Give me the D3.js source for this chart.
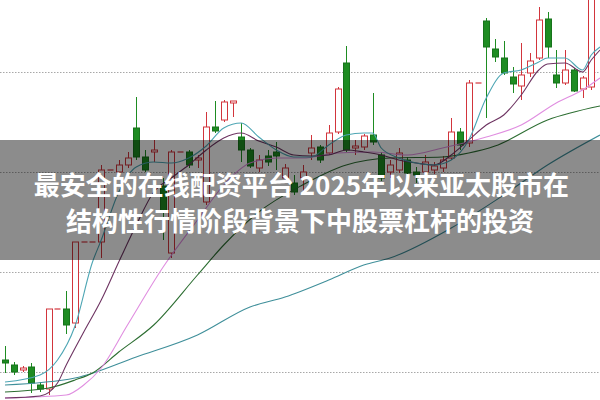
<!DOCTYPE html>
<html>
<head>
<meta charset="utf-8">
<script src="https://cdn.jsdelivr.net/npm/d3@7/dist/d3.min.js"></script>
<style>
html,body{margin:0;padding:0;background:#fff;}
svg{display:block;}
</style>
</head>
<body>
<svg id="chart" width="600" height="400"></svg>
<script>
// ---- data (prices) ----
const days = d3.range(68);
const opens  = [8.12,8.07,8.02,8.05,7.87,7.83,8.63,8.63,8.49,9.30,9.30,9.30,10.02,10.00,10.07,10.44,10.15,10.20,9.86,9.19,10.20,10.20,10.12,9.70,10.45,10.52,10.69,10.35,10.22,10.04,10.16,10.20,9.94,9.89,9.94,10.19,10.25,10.19,10.40,11.09,10.24,10.25,10.37,10.17,10.00,10.02,10.12,10.00,10.00,10.02,10.04,10.14,10.40,10.29,10.89,11.51,11.23,11.14,10.95,10.86,10.99,11.14,11.53,10.97,10.89,11.02,10.83,10.85];
const closes = [8.09,8.00,8.04,7.89,7.83,8.63,8.63,8.47,9.30,9.30,9.30,10.02,10.02,10.07,10.14,10.15,10.02,10.22,9.60,10.20,10.20,10.07,10.14,10.45,10.41,10.70,10.71,10.22,10.06,10.12,10.10,10.16,10.04,9.80,10.00,10.24,10.12,10.39,10.83,10.22,10.26,10.36,10.30,9.94,10.07,10.19,9.99,9.97,10.10,10.06,10.12,10.40,10.27,10.89,10.89,11.25,11.15,10.99,10.88,10.97,11.11,11.52,11.25,10.89,11.02,10.81,10.94,11.87];
const highs  = [8.26,8.10,8.06,8.09,7.90,8.63,8.63,8.81,9.30,9.30,9.30,10.07,10.02,10.12,10.20,10.75,10.22,10.32,9.94,10.22,10.20,10.22,10.17,10.60,10.71,10.72,10.71,10.49,10.24,10.17,10.22,10.30,10.08,9.97,10.07,10.37,10.27,10.47,10.85,11.26,10.32,10.38,10.79,10.20,10.12,10.24,10.15,10.05,10.17,10.10,10.16,10.54,10.44,10.92,10.89,11.54,11.33,11.31,11.05,11.29,11.19,11.65,11.60,11.22,11.22,11.04,10.96,11.92];
const lows   = [7.99,7.97,8.00,7.79,7.80,7.77,8.63,8.38,8.44,9.30,9.30,9.14,10.02,9.97,10.04,10.12,10.00,10.10,9.32,9.14,10.20,10.04,10.04,9.67,10.39,10.50,10.55,10.10,10.04,10.00,10.06,10.02,9.90,9.77,9.77,10.12,10.09,10.17,10.38,10.20,10.17,10.22,10.27,9.91,9.94,9.99,9.89,9.89,9.97,9.98,10.00,10.12,10.22,10.25,10.89,10.54,11.10,10.97,10.79,10.72,10.95,11.12,11.14,10.84,10.87,10.80,10.74,10.82];

// moving-average lines, [day, value]
const ma5  = [[0,7.90],[4,7.97],[6,8.12],[8,8.46],[10,9.10],[11,9.32],[13,9.80],[15,10.05],[17,10.10],[19,10.09],[21,10.14],[23,10.26],[25,10.44],[27,10.49],[29,10.35],[31,10.22],[33,10.15],[35,10.15],[37,10.27],[39,10.37],[41,10.39],[42,10.39],[43,10.24],[45,10.14],[47,10.09],[49,10.07],[51,10.12],[53,10.32],[55,10.74],[57,10.99],[59,11.02],[61,11.10],[62,11.14],[64,11.14],[66,11.02],[67,11.17],[68,11.25]];
const ma10 = [[0,7.74],[4,7.76],[6,7.89],[7,8.07],[9,8.40],[11,8.72],[13,9.10],[15,9.47],[17,9.80],[19,9.94],[21,10.07],[23,10.22],[25,10.34],[27,10.39],[29,10.31],[31,10.25],[33,10.17],[35,10.16],[37,10.17],[39,10.22],[41,10.20],[43,10.17],[45,10.12],[47,10.09],[49,10.07],[51,10.17],[53,10.32],[55,10.47],[57,10.57],[59,10.77],[61,11.02],[62,11.08],[64,11.09],[66,11.00],[67,11.12],[68,11.22]];
const ma20 = [[0,7.74],[7,7.77],[9,7.87],[11,8.04],[14,8.47],[18,9.04],[22,9.52],[25,9.87],[28,10.09],[31,10.14],[34,10.14],[38,10.19],[42,10.20],[46,10.17],[50,10.24],[55,10.35],[59,10.47],[63,10.69],[66,10.82],[68,10.94]];
const ma30 = [[0,7.80],[5,7.84],[8,7.92],[10,7.99],[13,8.20],[17,8.47],[22,8.97],[25,9.27],[29,9.60],[34,9.87],[39,10.07],[44,10.14],[50,10.15],[53,10.19],[56,10.26],[62,10.52],[68,10.66]];
const ma60 = [[0,7.87],[8,7.94],[15,8.15],[22,8.37],[28,8.65],[32,8.75],[37,8.92],[41,9.07],[44,9.14],[51,9.44],[57,9.77],[62,10.07],[68,10.37]];

const gridPrices = [8, 9, 10, 11];
const titleLines = ["最安全的在线配资平台 2025年以来亚太股市在", "结构性行情阶段背景下中股票杠杆的投资"];

// ---- drawing ----
const W = 600, H = 400;
const svg = d3.select("#chart");
const x = d3.scaleLinear().domain([0, 67]).range([5, 591.25]);
const y = d3.scaleLinear().domain([7.72, 11.72]).range([H, 0]);

svg.append("rect").attr("width", W).attr("height", H).attr("fill", "#fff");

// dotted grid
svg.append("g").selectAll("line").data(gridPrices).join("line")
  .attr("x1", 0).attr("x2", W)
  .attr("y1", d => Math.round(y(d)) + 0.5).attr("y2", d => Math.round(y(d)) + 0.5)
  .attr("stroke", "#a8a8a8").attr("stroke-width", 1).attr("stroke-dasharray", "1.5,1.5");

const RED = "#d2353c", GREEN = "#1e8c22", GREEN_S = "#17731b";
const candles = days.map(i => ({i, o: opens[i], c: closes[i], h: highs[i], l: lows[i]}));
const cg = svg.append("g");
const bw = 6;
candles.forEach(d => {
  const cx = Math.round(x(d.i)) + 0.5;
  const up = d.c >= d.o;
  const col = up ? RED : GREEN;
  const top = Math.min(y(d.o), y(d.c)), bot = Math.max(y(d.o), y(d.c));
  if (bot - top < 0.8) {
    cg.append("line").attr("x1", cx - bw/2).attr("x2", cx + bw/2)
      .attr("y1", top).attr("y2", top).attr("stroke", col).attr("stroke-width", 1.2);
    if (y(d.h) < top - 0.5) cg.append("line").attr("x1", cx).attr("x2", cx).attr("y1", y(d.h)).attr("y2", top).attr("stroke", col);
    if (y(d.l) > top + 0.5) cg.append("line").attr("x1", cx).attr("x2", cx).attr("y1", top).attr("y2", y(d.l)).attr("stroke", col);
    return;
  }
  cg.append("line").attr("x1", cx).attr("x2", cx).attr("y1", y(d.h)).attr("y2", top).attr("stroke", col).attr("stroke-width", 1);
  cg.append("line").attr("x1", cx).attr("x2", cx).attr("y1", bot).attr("y2", y(d.l)).attr("stroke", col).attr("stroke-width", 1);
  cg.append("rect").attr("x", cx - bw/2).attr("y", top).attr("width", bw).attr("height", bot - top)
    .attr("fill", up ? "#fff" : GREEN).attr("stroke", up ? RED : GREEN_S).attr("stroke-width", 1);
});

// MA lines
const line = d3.line().x(d => x(d[0])).y(d => y(d[1])).curve(d3.curveMonotoneX);
const maSeries = [
  {data: ma60, color: "#3f8f9a"},
  {data: ma30, color: "#2d6e32"},
  {data: ma20, color: "#e08ee0"},
  {data: ma10, color: "#6e3462"},
  {data: ma5,  color: "#4ea6b4"}
];
svg.append("g").selectAll("path").data(maSeries).join("path")
  .attr("d", s => line(s.data)).attr("fill", "none")
  .attr("stroke", s => s.color).attr("stroke-width", 1.1);

// title band
svg.append("rect").attr("x", 0).attr("y", 140).attr("width", W).attr("height", 120)
  .attr("fill", "rgba(0,0,0,0.45)");
svg.append("g").selectAll("text").data(titleLines).join("text")
  .attr("x", (d, k) => k === 0 ? 301.5 : 300)
  .attr("y", (d, k) => 183 + k * 36)
  .attr("text-anchor", "middle").attr("dominant-baseline", "central")
  .attr("font-family", "'Noto Sans CJK SC', 'Noto Sans', sans-serif")
  .attr("font-weight", 700).attr("font-size", 26).attr("fill", "#fff")
  .text(d => d);
</script>
</body>
</html>
